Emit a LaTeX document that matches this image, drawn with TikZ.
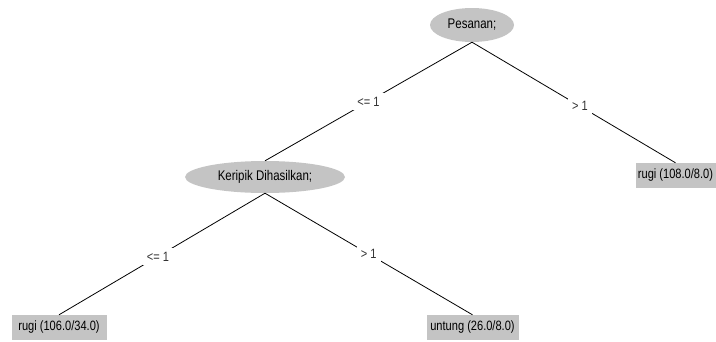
\documentclass[tikz,border=0pt]{standalone}
\usepackage{fontspec}
\setmainfont[FakeStretch=0.82]{Liberation Sans}
\usetikzlibrary{shapes.geometric}
\definecolor{nodegray}{HTML}{C4C4C4}
\tikzset{
  split/.style={ellipse, fill=nodegray, inner sep=0pt, font=\fontsize{14}{16}\selectfont},
  leafbox/.style={rectangle, fill=nodegray, inner sep=0pt, minimum height=25pt, font=\fontsize{13.5}{16}\selectfont},
  lbl/.style={fill=white, inner sep=4pt, font=\fontsize{13.5}{16}\selectfont, text=black!80},
  edge/.style={draw=black, line width=0.8pt}
}
\begin{document}
\begin{tikzpicture}[x=1pt,y=-1pt]
\useasboundingbox (0,0) rectangle (716,341);
\node[split, minimum width=84pt, minimum height=34pt] (p) at (472,25) {Pesanan;};
\node[split, minimum width=160pt, minimum height=32pt] (k) at (265,177) {Keripik Dihasilkan;};
\node[leafbox, minimum width=80pt] (r1) at (675.5,175.5) {rugi (108.0/8.0)};
\node[leafbox, minimum width=95pt] (r2) at (59,327.5) {rugi (106.0/34.0)};
\node[leafbox, minimum width=92pt] (u) at (472.5,327.5) {untung (26.0/8.0)};
\draw[edge] (p.south) -- node[lbl] (l1) {<= 1} (k.north);
\draw[edge] (p.south) -- node[lbl, pos=0.53] (l2) {> 1} (r1.north);
\draw[edge] (k.south) -- node[lbl, pos=0.52] (l3) {<= 1} (r2.north);
\draw[edge] (k.south) -- node[lbl] (l4) {> 1} (u.north);
\end{tikzpicture}
\end{document}
